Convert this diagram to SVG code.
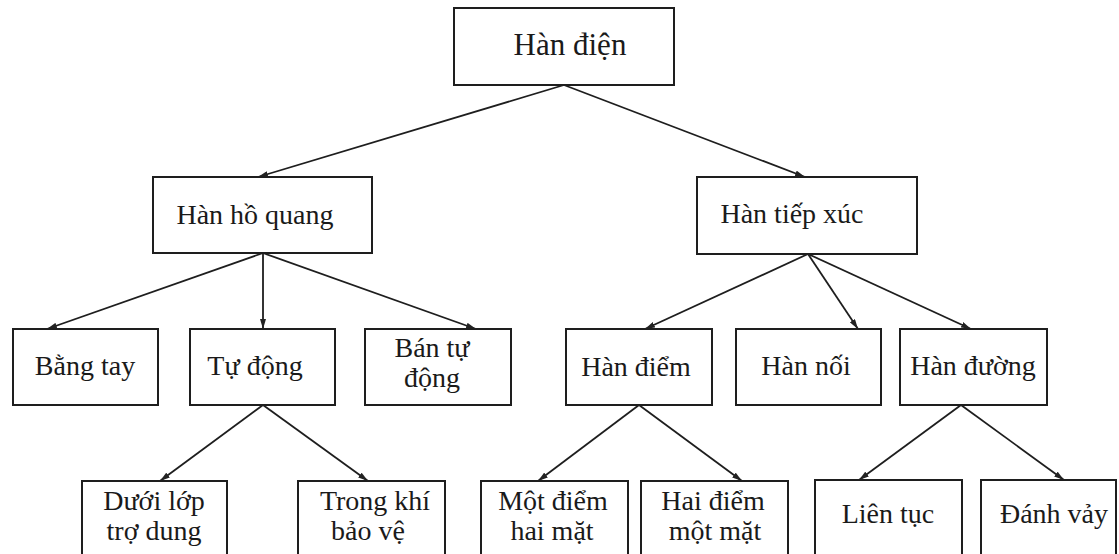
<svg xmlns="http://www.w3.org/2000/svg" width="1119" height="554" viewBox="0 0 1119 554">
  <defs>
    <marker id="arr" viewBox="0 0 10 6" refX="10" refY="3" markerWidth="10" markerHeight="6" markerUnits="userSpaceOnUse" orient="auto">
      <path d="M0,0 L10,3 L0,6 Z" fill="#222"/>
    </marker>
    <style>
      .box { fill: #fff; stroke: #1e1e1e; stroke-width: 2; }
      .lbl { font-family: "Liberation Serif", "Times New Roman", serif; font-size: 28px; fill: #1a1a1a; text-anchor: middle; }
      .root { font-size: 31px; }
      .conn line { stroke: #1e1e1e; stroke-width: 1.8; marker-end: url(#arr); }
    </style>
  </defs>
  <rect width="1119" height="554" fill="#fff"/>

  <g id="connectors" class="conn">
    <line x1="564" y1="85" x2="258" y2="177"/>
    <line x1="564" y1="85" x2="805" y2="177"/>
    <line x1="263" y1="253" x2="47" y2="329"/>
    <line x1="263" y1="253" x2="263" y2="329"/>
    <line x1="263" y1="253" x2="476" y2="329"/>
    <line x1="808" y1="254" x2="645" y2="329"/>
    <line x1="808" y1="254" x2="858" y2="329"/>
    <line x1="808" y1="254" x2="971" y2="329"/>
    <line x1="263" y1="405" x2="160" y2="481"/>
    <line x1="263" y1="405" x2="368" y2="481"/>
    <line x1="639" y1="405" x2="538" y2="481"/>
    <line x1="639" y1="405" x2="742" y2="481"/>
    <line x1="961" y1="405" x2="859" y2="480"/>
    <line x1="961" y1="405" x2="1064" y2="480"/>
  </g>

  <g id="han-dien">
    <rect class="box" x="454" y="8" width="220" height="77"/>
    <text class="lbl root" x="570" y="55">Hàn điện</text>
  </g>
  <g id="han-ho-quang">
    <rect class="box" x="153" y="177" width="219" height="76"/>
    <text class="lbl" x="255" y="224">Hàn hồ quang</text>
  </g>
  <g id="han-tiep-xuc">
    <rect class="box" x="697" y="177" width="220" height="77"/>
    <text class="lbl" x="792" y="223">Hàn tiếp xúc</text>
  </g>

  <g id="bang-tay">
    <rect class="box" x="13" y="329" width="145" height="76"/>
    <text class="lbl" x="85" y="375">Bằng tay</text>
  </g>
  <g id="tu-dong">
    <rect class="box" x="190" y="329" width="145" height="76"/>
    <text class="lbl" x="255" y="375">Tự động</text>
  </g>
  <g id="ban-tu-dong">
    <rect class="box" x="365" y="329" width="146" height="76"/>
    <text class="lbl" x="432" y="357">Bán tự</text>
    <text class="lbl" x="432" y="387">động</text>
  </g>
  <g id="han-diem">
    <rect class="box" x="566" y="329" width="146" height="76"/>
    <text class="lbl" x="636" y="376">Hàn điểm</text>
  </g>
  <g id="han-noi">
    <rect class="box" x="736" y="329" width="145" height="76"/>
    <text class="lbl" x="806" y="375">Hàn nối</text>
  </g>
  <g id="han-duong">
    <rect class="box" x="900" y="329" width="147" height="76"/>
    <text class="lbl" x="973" y="375">Hàn đường</text>
  </g>

  <g id="duoi-lop-tro-dung">
    <rect class="box" x="82" y="481" width="145" height="90"/>
    <text class="lbl" x="154" y="510">Dưới lớp</text>
    <text class="lbl" x="154" y="540">trợ dung</text>
  </g>
  <g id="trong-khi-bao-ve">
    <rect class="box" x="298" y="481" width="147" height="90"/>
    <text class="lbl" x="375" y="510">Trong khí</text>
    <text class="lbl" x="368" y="540">bảo vệ</text>
  </g>
  <g id="mot-diem-hai-mat">
    <rect class="box" x="481" y="481" width="147" height="90"/>
    <text class="lbl" x="553" y="510">Một điểm</text>
    <text class="lbl" x="552" y="540">hai mặt</text>
  </g>
  <g id="hai-diem-mot-mat">
    <rect class="box" x="641" y="481" width="147" height="90"/>
    <text class="lbl" x="713" y="510">Hai điểm</text>
    <text class="lbl" x="715" y="540">một mặt</text>
  </g>
  <g id="lien-tuc">
    <rect class="box" x="815" y="480" width="147" height="91"/>
    <text class="lbl" x="888" y="523">Liên tục</text>
  </g>
  <g id="danh-vay">
    <rect class="box" x="981" y="480" width="135" height="91"/>
    <text class="lbl" x="1054" y="523">Đánh vảy</text>
  </g>
</svg>
